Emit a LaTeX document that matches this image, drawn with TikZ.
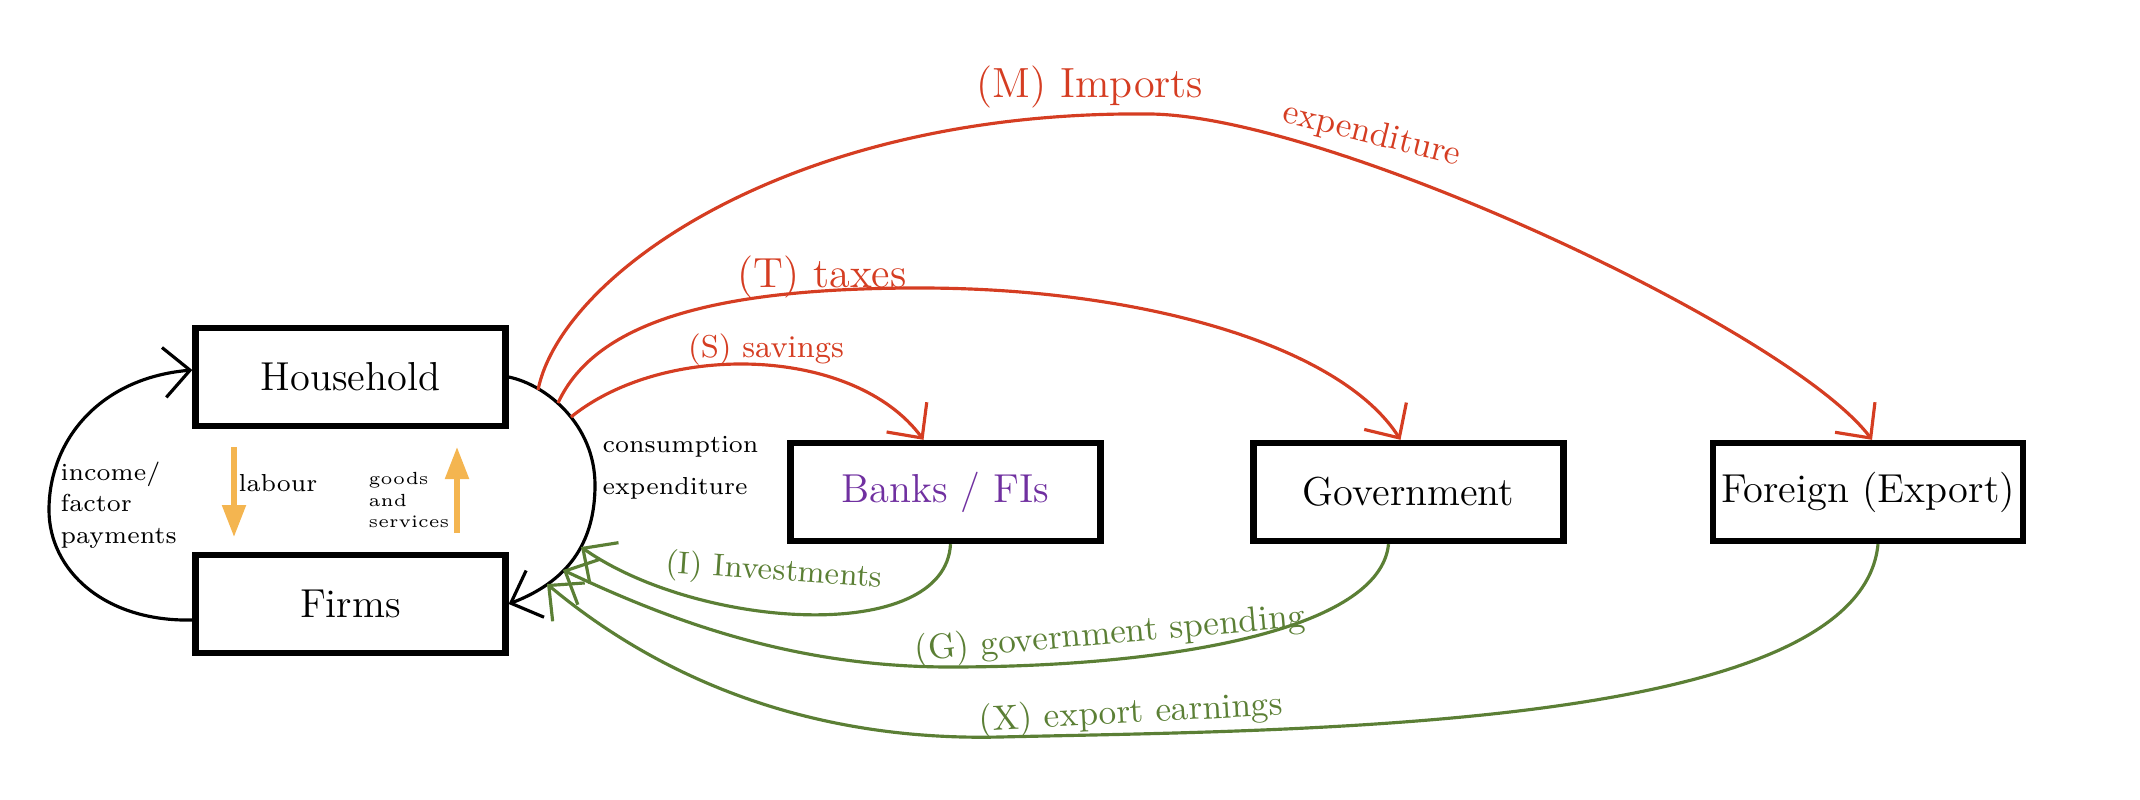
\documentclass[tikz,border=0pt]{standalone}
\usepackage{amsmath}
\usetikzlibrary{arrows.meta,positioning}
\definecolor{flowred}{HTML}{D53D22}
\definecolor{flowgreen}{HTML}{5B7F35}
\definecolor{bankpurple}{HTML}{7030A0}
\definecolor{flowamber}{HTML}{F4B550}

\begin{document}
\begin{tikzpicture}[>={Straight Barb[length=2.6mm,width=5mm]},
                    box/.style={draw,line width=1.8pt,minimum width=3.1cm,
                                minimum height=0.98cm,inner sep=1pt,
                                font=\fontsize{11.5}{14}\selectfont},
                    flow/.style={->,line width=0.9pt},
                    redflow/.style={flow,flowred},
                    greenflow/.style={flow,flowgreen},
                    amber/.style={-{Triangle[length=3.2mm,width=2.3mm]},
                                  line width=1.5pt,flowamber},
                    note/.style={font=\scriptsize,align=left,inner sep=0pt},
                    redtag/.style={text=flowred},
                    greentag/.style={text=flowgreen}]

  \useasboundingbox (0,0) rectangle (21.4,-8);

  \node[box]                   (hh) at (3.505,-3.77) {Household};
  \node[box,node distance=2.27cm] (firms) [below of=hh] {Firms};
  \node[box,text=bankpurple]   (banks) at (9.455,-4.92) {Banks / FIs};
  \node[box,node distance=4.63cm] (gov) [right of=banks] {Government};
  \node[box,node distance=4.595cm] (foreign) [right of=gov] {Foreign (Export)};

  \coordinate (rmax) at (5.95,-4.85);
  \coordinate (lmin) at (0.49,-5.10);
  \coordinate (m0) at (5.38,-3.90);
  \coordinate (t0) at (5.58,-4.03);
  \coordinate (s0) at (5.71,-4.17);
  \coordinate (i1) at (5.81,-5.47);
  \coordinate (g1) at (5.63,-5.70);
  \coordinate (x1) at (5.47,-5.84);
  \coordinate (mtop) at (11.5,-1.14);
  \coordinate (ttop) at (9.2,-2.88);
  \coordinate (gbot) at (9.5,-6.67);
  \coordinate (xbot) at (10.0,-7.37);
  \coordinate (lab0) at (2.34,-4.47);
  \coordinate (lab1) at (2.34,-5.37);
  \coordinate (gs0) at (4.57,-5.33);
  \coordinate (gs1) at (4.57,-4.47);

  \draw[flow] ([yshift=-1.6mm]firms.west) .. controls (1.04,-6.22) and (0.49,-5.70) .. (lmin)
              .. controls (0.49,-4.40) and (1.00,-3.78) .. ([yshift=0.7mm]hh.west);
  \draw[flow] (hh.east) .. controls (5.47,-3.85) and (5.95,-4.25) .. (rmax)
              .. controls (5.95,-5.45) and (5.66,-5.82) .. (firms.east);

  \draw[amber] (lab0) -- (lab1);
  \draw[amber] (gs0) -- (gs1);

  \draw[redflow] (m0) .. controls (5.61,-2.75) and (7.9,-1.10) .. (mtop)
                 .. controls (13.3,-1.16) and (17.9,-3.31) .. ([xshift=0.4mm]foreign.north);
  \draw[redflow] (t0) .. controls (5.96,-3.20) and (7.2,-2.88) .. (ttop)
                 .. controls (11.4,-2.88) and (13.40,-3.45) .. ([xshift=-0.8mm]gov.north);
  \draw[redflow] (s0) .. controls (6.65,-3.41) and (8.54,-3.46) .. ([xshift=-2.2mm]banks.north);

  \draw[greenflow] ([xshift=0.5mm]banks.south) .. controls (9.45,-6.45) and (7.0,-6.3) .. (i1);
  \draw[greenflow] ([xshift=-2mm]gov.south) .. controls (13.8,-6.3) and (11.7,-6.67) .. (gbot)
                   .. controls (8.0,-6.67) and (6.79,-6.25) .. (g1);
  \draw[greenflow] ([xshift=1mm]foreign.south) .. controls (18.6,-7.3) and (13.0,-7.30) .. (xbot)
                   .. controls (8.3,-7.41) and (6.75,-6.91) .. (x1);

  \node[note,anchor=west]      (incm) at (0.60,-5.05) {income/\\[1pt]factor\\[1pt]payments};
  \node[note]                  (labr) at (2.78,-4.83) {labour};
  \node[note,font=\tiny,anchor=east] (gnsv) at (4.50,-5.00) {goods\\and\\services};
  \node[note,anchor=west]      (cons) at (6.02,-4.68) {consumption\\[4pt]expenditure};

  \node[redtag,font=\large]    (mlbl) at (10.90,-0.87) {(M) Imports};
  \node[redtag,rotate=-14]     (mexp) at (13.72,-1.35) {expenditure};
  \node[redtag,font=\large]    (tlbl) at (8.22,-2.77) {(T) taxes};
  \node[redtag,font=\small]    (slbl) at (7.66,-3.50) {(S) savings};

  \node[greentag,font=\small,rotate=-4] (ilbl) at (7.74,-5.72) {(I) Investments};
  \node[greentag,rotate=5]     (glbl) at (11.10,-6.35) {(G) government spending};
  \node[greentag,rotate=3]     (xlbl) at (11.31,-7.14) {(X) export earnings};
\end{tikzpicture}
\end{document}
